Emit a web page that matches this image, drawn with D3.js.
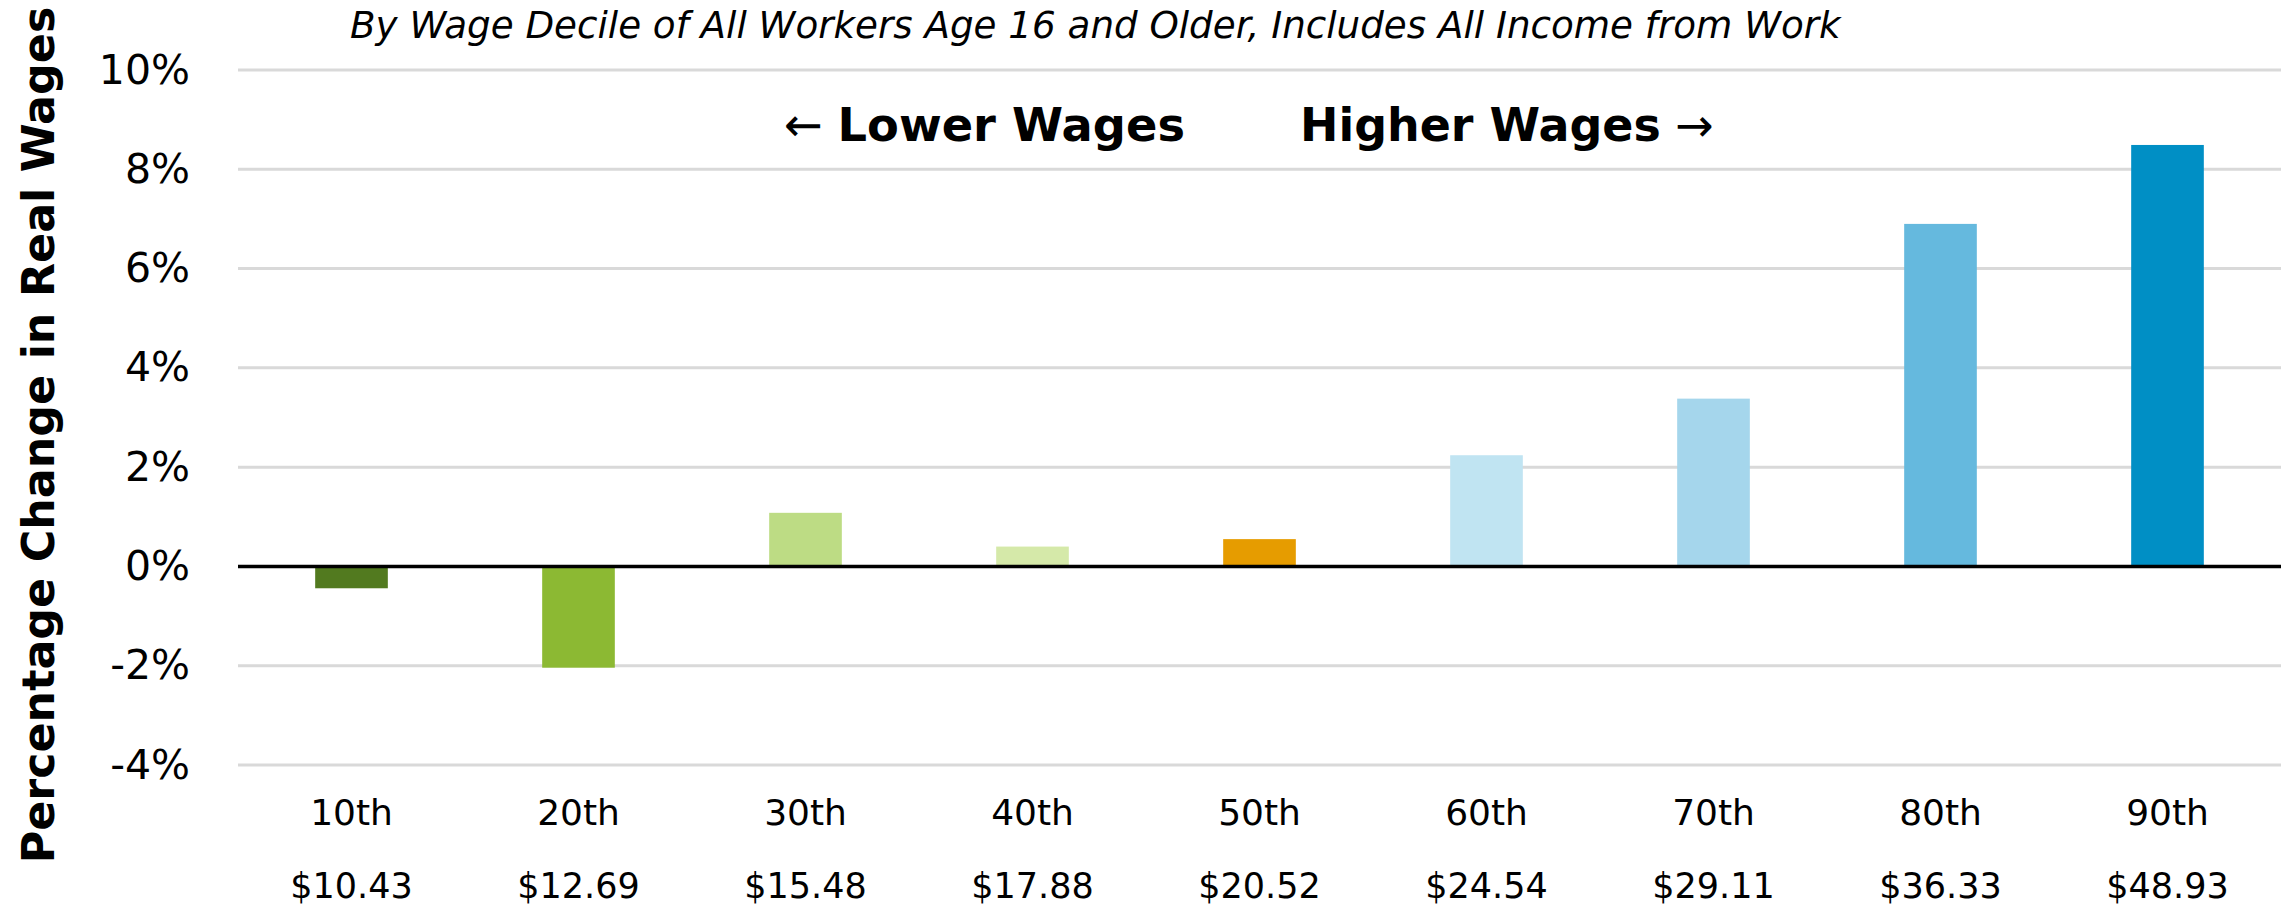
<!DOCTYPE html>
<html>
<head>
<meta charset="utf-8">
<script src="https://cdn.jsdelivr.net/npm/d3@7"></script>
<style>
	body { margin: 0; background: #fff; }
	text { font-family: "DejaVu Sans", Verdana, sans-serif; fill: #000; }
	.grid { stroke: #d9d9d9; stroke-width: 3; }
	.zero { stroke: #000; stroke-width: 3.5; }
</style>
</head>
<body>
<script>
//chart data
var deciles = ["10th", "20th", "30th", "40th", "50th", "60th", "70th", "80th", "90th"];
var wages = ["$10.43", "$12.69", "$15.48", "$17.88", "$20.52", "$24.54", "$29.11", "$36.33", "$48.93"];
var changes = [-0.44, -2.04, 1.08, 0.40, 0.55, 2.24, 3.38, 6.90, 8.49];
var barColors = ["#527a1f", "#8cb933", "#bddc84", "#d5e9a9", "#e69c00", "#c0e4f2", "#a5d6ec", "#65b9de", "#008fc5"];
var yTicks = [-4, -2, 0, 2, 4, 6, 8, 10];

window.onload = drawChart();

function drawChart(){

	var width = 2288,
		height = 910;

	var svg = d3.select("body")
		.append("svg")
		.attr("width", width)
		.attr("height", height);

	//scales
	var x = d3.scaleBand()
		.domain(deciles)
		.range([238, 2281])
		.paddingInner(0.68)
		.paddingOuter(0.34);

	var y = d3.scaleLinear()
		.domain([-4, 10])
		.range([765, 70]);

	//shrink or grow a label's font until it is as wide as the picture's
	function fitWidth(sel, target){
		var size = parseFloat(sel.style("font-size"));
		var w = sel.node().getComputedTextLength();
		sel.style("font-size", (size * target / w) + "px");
	}

	//horizontal gridlines
	svg.selectAll(".grid")
		.data(yTicks.filter(function(d){ return d != 0; }))
		.enter()
		.append("line")
		.attr("class", "grid")
		.attr("x1", x.range()[0])
		.attr("x2", x.range()[1])
		.attr("y1", function(d){ return y(d); })
		.attr("y2", function(d){ return y(d); });

	//y axis labels, drawn with d3 axis then restyled
	var yAxis = svg.append("g")
		.attr("transform", "translate(190,0)")
		.call(d3.axisLeft(y).tickValues(yTicks).tickSize(0).tickPadding(0)
			.tickFormat(function(d){ return d + "%"; }));
	yAxis.select(".domain").remove();
	yAxis.selectAll("text")
		.attr("font-family", null)
		.style("font-size", "41px");

	//bars
	svg.selectAll(".bar")
		.data(changes)
		.enter()
		.append("rect")
		.attr("class", "bar")
		.attr("x", function(d, i){ return x(deciles[i]); })
		.attr("width", x.bandwidth())
		.attr("y", function(d){ return y(Math.max(0, d)); })
		.attr("height", function(d){ return Math.abs(y(d) - y(0)); })
		.attr("fill", function(d, i){ return barColors[i]; });

	//zero line
	svg.append("line")
		.attr("class", "zero")
		.attr("x1", x.range()[0])
		.attr("x2", x.range()[1])
		.attr("y1", y(0))
		.attr("y2", y(0));

	//category labels, two lines
	var cats = svg.selectAll(".cat")
		.data(deciles)
		.enter()
		.append("g")
		.attr("class", "cat")
		.attr("transform", function(d){ return "translate(" + (x(d) + x.bandwidth() / 2) + ",0)"; });
	cats.append("text")
		.attr("y", 825)
		.attr("text-anchor", "middle")
		.style("font-size", "36px")
		.text(function(d){ return d; });
	cats.append("text")
		.attr("y", 898)
		.attr("text-anchor", "middle")
		.style("font-size", "35px")
		.text(function(d, i){ return wages[i]; });

	//subtitle
	var title = svg.append("text")
		.attr("x", 350)
		.attr("y", 38)
		.style("font-style", "italic")
		.style("font-size", "40px")
		.text("By Wage Decile of All Workers Age 16 and Older, Includes All Income from Work");
	fitWidth(title, 1491);

	//direction notes
	var lower = svg.append("text")
		.attr("x", 784)
		.attr("y", 141)
		.style("font-size", "42px");
	lower.append("tspan").text("\u2190 ");
	lower.append("tspan").style("font-weight", "bold").text("Lower Wages");
	fitWidth(lower, 401);

	var higher = svg.append("text")
		.attr("x", 1300)
		.attr("y", 141)
		.style("font-size", "42px");
	higher.append("tspan").style("font-weight", "bold").text("Higher Wages");
	higher.append("tspan").text(" \u2192");
	fitWidth(higher, 414);

	//y axis title
	var ytitle = svg.append("text")
		.attr("transform", "translate(54,435) rotate(-90)")
		.attr("text-anchor", "middle")
		.style("font-weight", "bold")
		.style("font-size", "44px")
		.text("Percentage Change in Real Wages");
	fitWidth(ytitle, 857);
}
</script>
</body>
</html>
